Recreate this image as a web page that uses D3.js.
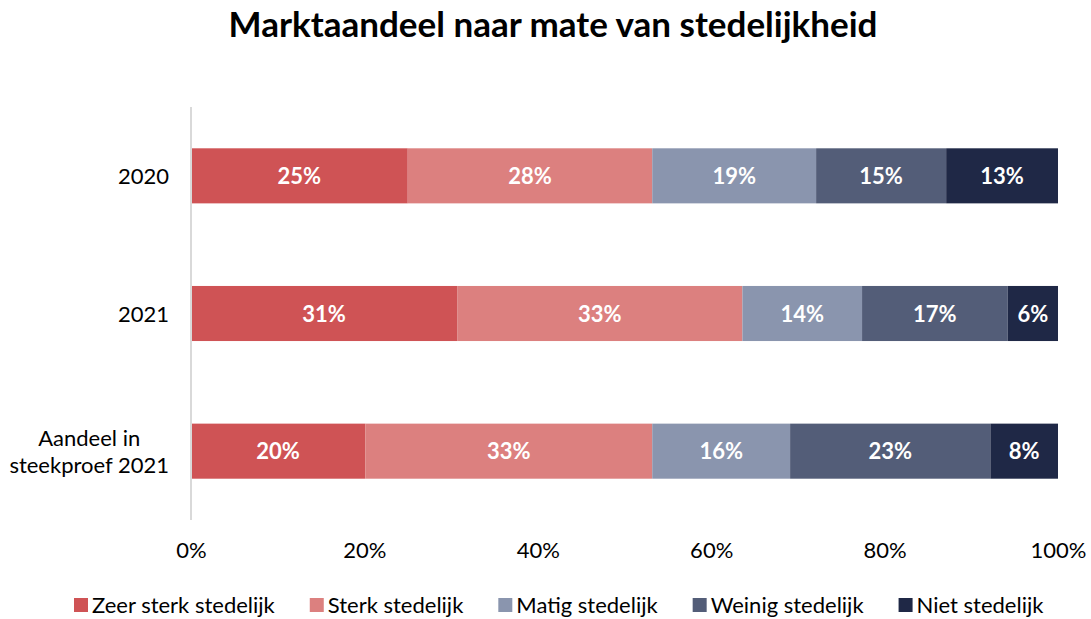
<!DOCTYPE html>
<html><head><meta charset="utf-8">
<script src="https://cdn.jsdelivr.net/npm/d3@7"></script>
<style>body{margin:0;background:#fff;}text{font-family:Lato,"Open Sans",sans-serif;}</style>
</head><body><svg id="c" width="1091" height="619"></svg>
<script>
const categories = ["2020", "2021", "Aandeel in\nsteekproef 2021"];
const seriesNames = ["Zeer sterk stedelijk", "Sterk stedelijk", "Matig stedelijk", "Weinig stedelijk", "Niet stedelijk"];
const zeerSterk = [25.0, 30.7, 20.1];
const sterk = [28.2, 32.9, 33.1];
const matig = [18.9, 13.8, 15.9];
const weinig = [15.0, 16.8, 23.1];
const niet = [12.9, 5.8, 7.8];
const ticks = [0, 20, 40, 60, 80, 100];
const colors = ["#CF5355", "#DC807F", "#8A95AE", "#535D78", "#1F2846"];

const svg = d3.select("#c");
const mLeft = 191, mRight = 1058, mTop = 107, mBottom = 520;
const x = d3.scaleLinear().domain([0, 100]).range([mLeft, mRight]);
const y = d3.scaleBand().domain(categories).range([mTop, mBottom]).paddingInner(0.6).paddingOuter(0.3);

svg.append("text").attr("x", 553).attr("y", 37).attr("text-anchor", "middle")
  .attr("font-size", 35).attr("font-weight", "bold").attr("fill", "#000")
  .text("Marktaandeel naar mate van stedelijkheid");

const seriesVals = [zeerSterk, sterk, matig, weinig, niet];
const rows = categories.map((c, i) => {
  const r = {cat: c};
  seriesNames.forEach((s, j) => r[s] = seriesVals[j][i]);
  return r;
});
const stack = d3.stack().keys(seriesNames)(rows);

stack.forEach((layer, j) => {
  const g = svg.append("g");
  g.selectAll("rect").data(layer).join("rect")
    .attr("x", d => x(d[0])).attr("width", d => x(d[1]) - x(d[0]))
    .attr("y", d => y(d.data.cat)).attr("height", y.bandwidth())
    .attr("fill", colors[j]);
  g.selectAll("text").data(layer).join("text")
    .attr("x", d => (x(d[0]) + x(d[1])) / 2)
    .attr("y", d => y(d.data.cat) + y.bandwidth() / 2 + 8)
    .attr("text-anchor", "middle").attr("font-size", 22).attr("font-weight", "bold")
    .attr("fill", "#fff").text(d => Math.round(d[1] - d[0]) + "%");
});

svg.append("line").attr("x1", mLeft).attr("x2", mLeft).attr("y1", mTop).attr("y2", mBottom)
  .attr("stroke", "#D9D9D9").attr("stroke-width", 2);

const xAxis = svg.append("g").attr("transform", `translate(0,${mBottom})`)
  .call(d3.axisBottom(x).tickValues(ticks).tickSize(0).tickPadding(22).tickFormat(d => d + "%"));
xAxis.select(".domain").remove();
xAxis.selectAll("text").attr("font-size", 22).attr("fill", "#000").style("font-family", "Lato, 'Open Sans', sans-serif");

const yAxis = svg.append("g").attr("transform", `translate(${mLeft},0)`)
  .call(d3.axisLeft(y).tickSize(0).tickFormat(""));
yAxis.select(".domain").remove();
yAxis.selectAll(".tick").each(function(d) {
  const lines = d.split("\n");
  const t = d3.select(this).append("text").attr("text-anchor", "middle").attr("font-size", 22).attr("fill", "#000");
  const spans = lines.map((l, i) => t.append("tspan").attr("dy", i === 0 ? (8 - (lines.length - 1) * 13) : 27).text(l));
  const maxW = d3.max(spans, s => s.node().getComputedTextLength());
  spans.forEach(s => s.attr("x", -22 - maxW / 2));
});

const legend = svg.append("g");
let lx = 74;
seriesNames.forEach((s, j) => {
  legend.append("rect").attr("x", lx).attr("y", 598).attr("width", 14).attr("height", 14).attr("fill", colors[j]);
  const t = legend.append("text").attr("x", lx + 18).attr("y", 613).attr("font-size", 22).attr("fill", "#000").text(s);
  lx += 18 + t.node().getComputedTextLength() + 35;
});
</script></body></html>
